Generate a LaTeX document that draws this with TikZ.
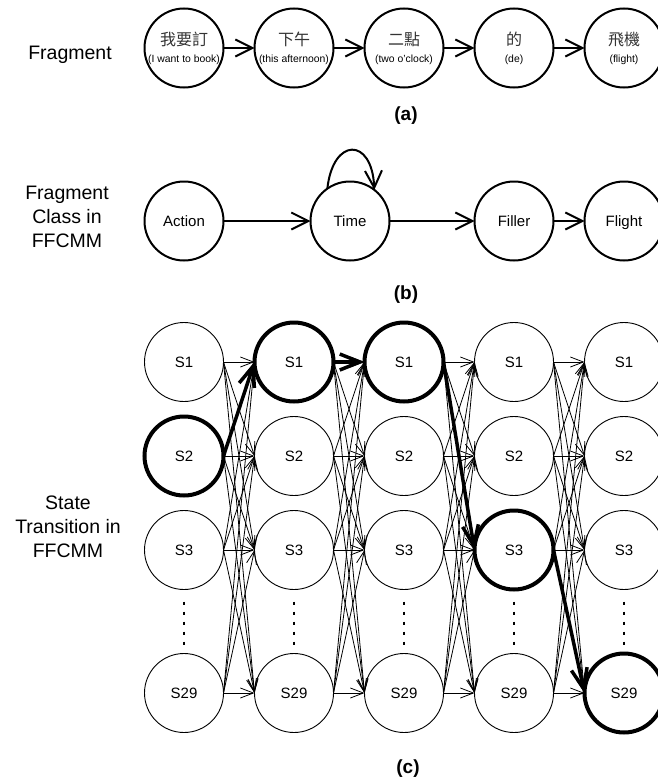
\documentclass[tikz,border=0pt]{standalone}
\usepackage{fontspec}
\setmainfont{Liberation Sans}
\newfontfamily\cjk{Noto Sans CJK TC}
\usetikzlibrary{arrows.meta,calc}

\begin{document}
\begin{tikzpicture}[x=1pt,y=-1pt,
  every node/.style={inner sep=0pt,outer sep=0pt},
  wordc/.style={circle,draw,line width=2pt,minimum size=79pt,
    text height=10.7pt,text depth=0pt,
    font=\fontsize{15}{18}\selectfont},
  statec/.style={circle,draw,fill=white,minimum size=79pt,
    text height=10.7pt,text depth=0pt,
    font=\fontsize{15}{18}\selectfont},
  zh/.style={font=\cjk\fontsize{16}{18}\selectfont,text=black!80},
  en/.style={font=\fontsize{10.4}{13}\selectfont},
  side/.style={align=center,font=\fontsize{19.5}{24}\selectfont},
  caption/.style={font=\bfseries\fontsize{19}{22}\selectfont},
  flow/.style={line width=2pt,-{Straight Barb[length=17pt,width=17pt]}},
  trans/.style={line width=0.8pt,-{Straight Barb[length=13pt,width=10pt]}},
  best/.style={line width=3.5pt,-{Straight Barb[length=20pt,width=16pt]}},
  vdots/.style={line width=2.5pt,dash pattern=on 3pt off 7pt}]

\useasboundingbox (0,0) rectangle (658,779);
\clip (0,0) rectangle (658,779);

% ---- (a) fragments of the sentence
\node[side] (la) at (70,55) {Fragment};
\foreach \i/\x/\zhtext/\entext in {
  1/184/我要訂/{(I want to book)},
  2/294/下午/{(this afternoon)},
  3/404/二點/{(two o'clock)},
  4/514/的/{(de)},
  5/624/飛機/{(flight)}}{
  \node[wordc] (a\i) at (\x,48) {};
  \node[zh] (z\i) at ($(a\i)+(0,-8.5)$) {\zhtext};
  \node[en] (e\i) at ($(a\i)+(0,12)$) {\entext};
}
\foreach \i [evaluate=\i as \n using int(\i+1)] in {1,...,4}
  \draw[flow] (a\i) -- (a\n);
\node[caption] (capa) at (406,116) {(a)};

% ---- (b) fragment classes
\node[side] (lb) at (67,217) {Fragment\\Class in\\FFCMM};
\node[wordc] (act) at (184,221) {Action};
\node[wordc] (tim) at (350,221) {Time};
\node[wordc] (fil) at (514,221) {Filler};
\node[wordc] (fli) at (624,221) {Flight};
\draw[flow] (act) -- (tim);
\draw[flow] (tim) -- (fil);
\draw[flow] (fil) -- (fli);
\draw[flow] (tim.125) .. controls ($(tim.center)+(-17,-84)$)
  and ($(tim.center)+(22,-84)$) .. (tim.52);
\node[caption] (capb) at (406,295) {(b)};

% ---- (c) state lattice
\node[side] (lc) at (68,527) {State\\Transition in\\FFCMM};
\foreach \c/\x/\h in {1/184/2,2/294/1,3/404/1,4/514/3,5/624/4}{
  \foreach \r/\y/\t in {1/362/S1,2/456/S2,3/550/S3,4/693/S29}{
    \ifnum\r=\h\relax\def\lw{4pt}\else\def\lw{0.9pt}\fi
    \node[statec,line width=\lw] (s\c\r) at (\x,\y) {\t};
  }
  \draw[vdots] (\x,601.5) -- (\x,646);
}
\foreach \c [evaluate=\c as \n using int(\c+1)] in {1,...,4}
  \foreach \i in {1,...,4}
    \foreach \j in {1,...,4}
      \draw[trans] (s\c\i.east) -- (s\n\j.west);
% most likely path
\draw[best] (s12.east) -- (s21.west);
\draw[best] (s21.east) -- (s31.west);
\draw[best] (s31.east) -- (s43.west);
\draw[best] (s43.east) -- (s54.west);
\node[caption] (capc) at (408,769) {(c)};
\end{tikzpicture}
\end{document}
